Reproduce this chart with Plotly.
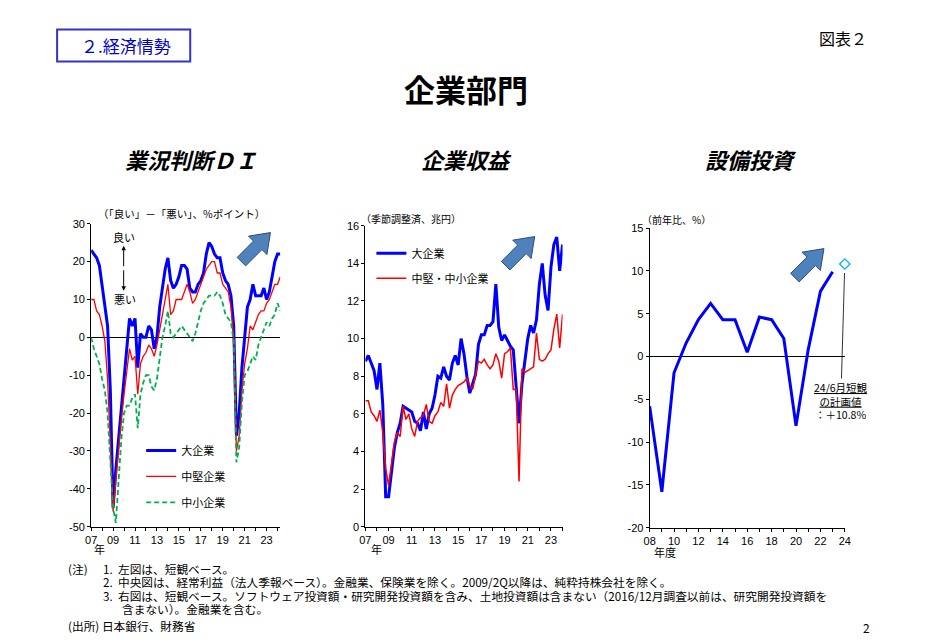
import plotly.graph_objects as go

JP = "Noto Sans CJK JP"
NUM = "Liberation Sans"
W, H = 928, 643

# 業況判断DI（「良い」-「悪い」、%ポイント）、2007/1Q～2024/2Q
di_large = [23, 22, 21, 19, 14, 9, 3, -14, -45, -35, -27, -20, -12, -3, 5, 3,
            5, -8, 1, 0, 0, 3, 2, -3, 0, 8, 13, 18, 21, 15, 13, 14,
            16, 19, 19, 18, 13, 12, 12, 14, 15, 17, 22, 25, 24, 22, 21, 21,
            17, 15, 14, 11, 3, -26, -20, -8, 0, 8, 10, 14, 11, 11, 11, 13,
            10, 12, 16, 20, 22, 22]
di_medium = [10, 10, 7, 6, 3, -1, -11, -28, -46, -38, -29, -22, -15, -9, -3, -6,
             -5, -15, -7, -5, -4, -2, -3, -5, -2, 2, 6, 9, 14, 6, 7, 10,
             10, 10, 12, 14, 12, 9, 10, 12, 14, 16, 18, 19, 20, 20, 17, 17,
             14, 13, 12, 8, 0, -30, -26, -14, -7, -3, 3, 2, 4, 6, 7, 7,
             9, 10, 12, 14, 14, 16]
di_small = [0, -3, -5, -7, -11, -14, -20, -31, -45, -49, -38, -27, -20, -18, -18, -16,
            -15, -24, -15, -12, -10, -10, -13, -14, -11, -6, 0, 3, 7, 1, 0, 1,
            2, 3, 2, 1, 0, -1, 1, 4, 7, 9, 10, 11, 11, 11, 12, 11,
            9, 6, 5, 4, -1, -33, -29, -17, -10, -9, -7, -5, -6, -2, 0, 2,
            4, 3, 5, 6, 9, 7]

# 企業収益（経常利益、季節調整済、兆円）、2007/1Q～2024/1Q
profit_large = [8.8, 9.1, 8.7, 8.3, 7.3, 8.7, 6.5, 1.6, 1.6, 3.0, 4.2, 5.0, 5.5, 6.4, 6.3, 6.2,
                6.1, 5.6, 5.5, 5.1, 6.1, 5.2, 6.0, 6.3, 7.0, 8.0, 7.9, 8.5, 8.0, 7.8, 8.7, 9.1,
                8.6, 10.0, 9.2, 8.0, 7.1, 7.6, 8.1, 9.7, 10.2, 10.2, 10.7, 10.7, 10.9, 12.9, 10.6, 9.9,
                10.2, 9.9, 9.6, 9.4, 7.4, 5.5, 7.6, 8.9, 10.0, 10.7, 10.3, 11.0, 12.9, 14.0, 12.3, 11.5,
                13.8, 15.0, 15.4, 13.6, 15.0]
profit_sme = [6.7, 6.7, 6.1, 5.9, 5.6, 6.2, 5.0, 3.1, 2.2, 3.4, 4.5, 5.0, 4.8, 6.4, 5.7, 6.0,
              5.2, 4.8, 5.6, 5.8, 5.9, 6.5, 5.6, 5.5, 5.9, 6.1, 6.6, 6.4, 7.6, 6.3, 7.0, 7.3,
              7.5, 7.6, 7.7, 7.9, 7.5, 7.3, 8.0, 8.8, 8.7, 8.9, 8.6, 8.4, 8.6, 9.2, 8.8, 7.9,
              9.2, 9.3, 9.5, 7.3, 7.3, 2.4, 8.4, 8.2, 8.3, 8.4, 8.5, 10.3, 8.9, 8.8, 8.9, 9.2,
              9.4, 10.5, 11.3, 9.5, 11.3]

# 設備投資（前年比、%）、年度
capex_fy = [2008, 2009, 2010, 2011, 2012, 2013, 2014, 2015,
            2016, 2017, 2018, 2019, 2020, 2021, 2022, 2023]
capex_yoy = [-5.8, -15.8, -1.9, 1.6, 4.3, 6.2, 4.3, 4.3,
             0.5, 4.6, 4.3, 2.1, -8.1, 0.8, 7.6, 9.9]
plan_fy = [2024]
plan_yoy = [10.8]

q_di = [2007 + i / 4 for i in range(len(di_large))]
q_profit = [2007 + i / 4 for i in range(len(profit_large))]

# page pixels -> paper, with a small correction for how the page gets photographed
CX, KX = 430, 1.014
CY, KY = 330, 1.02


def P(x, y):
    X = CX + (x - CX) * KX
    Y = CY + (y - CY) * KY
    return X / W, 1 - Y / H


def px(x):
    return P(x, 0)[0]


def py(y):
    return P(0, y)[1]


fig = go.Figure()

# left: 業況判断DI
fig.add_trace(go.Scatter(x=q_di, y=di_large, mode="lines", name="大企業",
                         line=dict(color="#0000FF", width=3),
                         xaxis="x", yaxis="y", legend="legend", legendgroup="a"))
fig.add_trace(go.Scatter(x=q_di, y=di_medium, mode="lines", name="中堅企業",
                         line=dict(color="#FF0000", width=1.3),
                         xaxis="x", yaxis="y", legend="legend", legendgroup="b"))
fig.add_trace(go.Scatter(x=q_di, y=di_small, mode="lines", name="中小企業",
                         line=dict(color="#00B050", width=1.8, dash="5px,3px"),
                         xaxis="x", yaxis="y", legend="legend", legendgroup="c"))

# middle: 企業収益
fig.add_trace(go.Scatter(x=q_profit, y=profit_large, mode="lines", name="大企業",
                         line=dict(color="#0000FF", width=3),
                         xaxis="x2", yaxis="y2", legend="legend2", legendgroup="d"))
fig.add_trace(go.Scatter(x=q_profit, y=profit_sme, mode="lines", name="中堅・中小企業",
                         line=dict(color="#FF0000", width=1.5),
                         xaxis="x2", yaxis="y2", legend="legend2", legendgroup="e"))

# right: 設備投資
fig.add_trace(go.Scatter(x=capex_fy, y=capex_yoy, mode="lines", showlegend=False,
                         line=dict(color="#0000FF", width=3), xaxis="x3", yaxis="y3"))
fig.add_trace(go.Scatter(x=plan_fy, y=plan_yoy, mode="markers", showlegend=False,
                         cliponaxis=False,
                         marker=dict(symbol="diamond-open", size=8, color="#00B0F0",
                                     line=dict(width=1.3)),
                         xaxis="x3", yaxis="y3"))


def xax(domain, rng, years, odd, anchor):
    text = [f"{y % 100:02d}" if (y % 2 == 1) == odd else "" for y in years]
    return dict(domain=domain, range=rng, anchor=anchor, tickvals=years, ticktext=text,
                showline=True, linecolor="black", linewidth=1, ticks="outside",
                ticklen=3, tickcolor="black", showgrid=False, zeroline=False,
                tickfont=dict(family=NUM, size=11, color="black"))


def yax(domain, rng, vals, anchor, zero):
    return dict(domain=domain, range=rng, anchor=anchor, tickvals=vals,
                ticktext=[str(v) for v in vals], showline=True, linecolor="black",
                linewidth=1, ticks="outside", ticklen=3, tickcolor="black",
                showgrid=False, zeroline=zero, zerolinecolor="black", zerolinewidth=1,
                tickfont=dict(family=NUM, size=11, color="black"))


fig.update_layout(
    width=W, height=H, margin=dict(l=0, r=0, t=0, b=0),
    paper_bgcolor="white", plot_bgcolor="white",
    font=dict(family=JP, color="black"),
    xaxis=xax([px(91), px(280)], [2007, 2024.25], list(range(2007, 2025)), True, "y"),
    yaxis=yax([py(526.7), py(224)], [-50, 30], list(range(-50, 31, 10)), "x", True),
    xaxis2=xax([px(365), px(562)], [2007, 2024], list(range(2007, 2025)), True, "y2"),
    yaxis2=yax([py(526.7), py(226)], [0, 16], list(range(0, 17, 2)), "x2", False),
    xaxis3=xax([px(649), px(844)], [2008, 2024], list(range(2008, 2025)), False, "y3"),
    yaxis3=yax([py(527.7), py(228.3)], [-20, 15], list(range(-20, 16, 5)), "x3", True),
    legend=dict(x=px(141), y=py(436), xanchor="left", yanchor="top",
                bgcolor="rgba(0,0,0,0)", font=dict(family=JP, size=11),
                traceorder="grouped", tracegroupgap=7, itemwidth=30),
    legend2=dict(x=px(371), y=py(239), xanchor="left", yanchor="top",
                 bgcolor="rgba(0,0,0,0)", font=dict(family=JP, size=11),
                 traceorder="grouped", tracegroupgap=6, itemwidth=30),
)

ann = []


def text(x, y, s, size=11, anchor="center", **kw):
    X, Y = P(x, y)
    ann.append(dict(x=X, y=Y, xref="paper", yref="paper", text=s, showarrow=False,
                    xanchor=anchor, yanchor="middle", font=dict(family=JP, size=size,
                                                                color=kw.pop("color", "black")),
                    **kw))


text(126, 46, "２.経済情勢", 17, color="#0000CC")
text(842, 38, "図表２", 16)
text(466, 89, "<b>企業部門</b>", 31)
text(191, 159, "<b><i>業況判断ＤＩ</i></b>", 22)
text(466, 159, "<b><i>企業収益</i></b>", 22)
text(750, 159, "<b><i>設備投資</i></b>", 22)
text(181, 214, "（「良い」－「悪い」、%ポイント）", 10.5)
text(411, 219, "（季節調整済、兆円）", 10)
text(676, 220, "（前年比、%）", 10)
text(124, 237, "良い", 11)
text(125, 299, "悪い", 11)
text(99, 549, "年", 11)
text(376, 549, "年", 11)
text(664, 552, "年度", 11)
text(866, 627, "2", 12)

# footnotes
fs = 11.7
text(66, 568, "(注)", fs, "left")
text(101, 568, "1.  左図は、短観ベース。", fs, "left")
text(101, 581, "2.  中央図は、経常利益（法人季報ベース）。金融業、保険業を除く。2009/2Q以降は、純粋持株会社を除く。", fs, "left")
text(101, 595, "3.  右図は、短観ベース。ソフトウェア投資額・研究開発投資額を含み、土地投資額は含まない（2016/12月調査以前は、研究開発投資額を", fs, "left")
text(120, 608, "含まない）。金融業を含む。", fs, "left")
text(66, 625, "(出所) 日本銀行、財務省", fs, "left")

# 良い/悪い double arrow
for y0, dy in [(246, 22), (291, -22)]:
    X, Y = P(123.5, y0)
    ann.append(dict(x=X, y=Y, xref="paper", yref="paper", text="", showarrow=True,
                    ax=0, ay=dy, arrowhead=2, arrowsize=0.9, arrowwidth=1, arrowcolor="black"))

# 24年度計画値 callout
ann.append(dict(x=plan_fy[0], y=plan_yoy[0], xref="x3", yref="y3",
                text="<u>24/6月短観</u><br><u>の計画値</u><br>：＋10.8%",
                showarrow=True, arrowhead=0, arrowwidth=0.8, arrowcolor="black",
                ax=-4, ay=137, standoff=9, align="center",
                font=dict(family=JP, size=10.5, color="black")))

fig.update_layout(annotations=ann)

# header box
x0, y0 = P(57, 30)
x1, y1 = P(190, 62)
shapes = [dict(type="rect", xref="paper", yref="paper", x0=x0, y0=y1, x1=x1, y1=y0,
               line=dict(color="#3333CC", width=2))]


def block_arrow(cx, cy):
    pts = [(-21, -6), (2, -6), (2, -13), (20, 0), (2, 13), (2, 6), (-21, 6)]
    c = 0.7071
    out = []
    for u, v in pts:
        X, Y = P(cx + u * c + v * c, cy - u * c + v * c)
        out.append(f"{X:.5f},{Y:.5f}")
    return "M" + " L".join(out) + " Z"


for cx, cy in [(256, 247), (520, 251), (809, 263)]:
    shapes.append(dict(type="path", xref="paper", yref="paper", path=block_arrow(cx, cy),
                       fillcolor="#4F81BD", line=dict(color="#2C4D75", width=1)))

fig.update_layout(shapes=shapes)

page_css = ("var s='margin:0;padding:0;overflow:hidden;width:928px;height:643px';"
            "document.documentElement.style.cssText=s;document.body.style.cssText=s;")
fig.write_html("out.html", config={"displayModeBar": False}, post_script=page_css)
